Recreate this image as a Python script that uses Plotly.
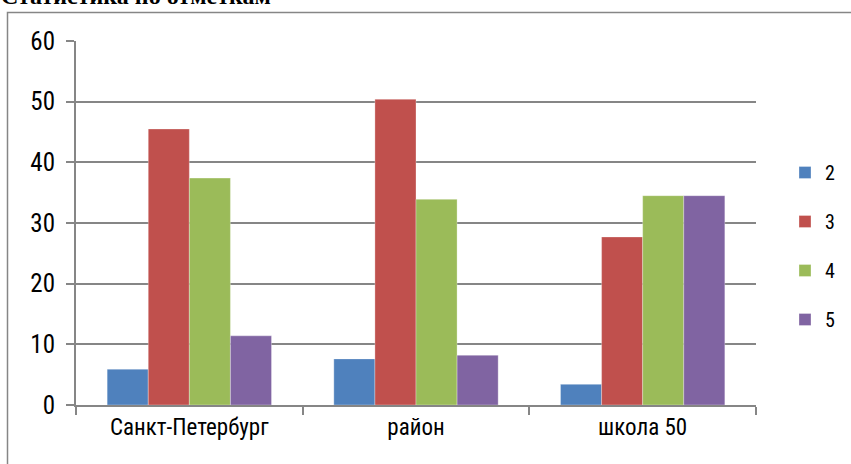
import plotly.graph_objects as go

categories = ["Санкт-Петербург", "район", "школа 50"]
series_names = ["2", "3", "4", "5"]
values_2 = [5.9, 7.6, 3.4]
values_3 = [45.5, 50.4, 27.7]
values_4 = [37.4, 33.9, 34.5]
values_5 = [11.4, 8.2, 34.5]
colors = ["#4F81BD", "#C0504D", "#9BBB59", "#8064A2"]
y_ticks = [0, 10, 20, 30, 40, 50, 60]

W, H = 851, 464
L, T = 76, 41
R = W - 756
B = H - 405
pw, ph = W - L - R, H - T - B

def px_x(x):  # window pixel -> paper x
    return (x - L) / pw

def px_y(y):  # window pixel -> paper y
    return (H - B - y) / ph

fig = go.Figure()
for name, vals, col in zip(series_names, [values_2, values_3, values_4, values_5], colors):
    fig.add_trace(go.Bar(
        x=categories, y=vals, name=name, legendgroup=name,
        marker=dict(color=col, line=dict(color="rgba(255,255,255,0.6)", width=0.5)),
    ))

font_main = "Liberation Sans Narrow, Arial Narrow, Roboto Condensed, Open Sans, sans-serif"

fig.update_layout(
    width=W, height=H,
    margin=dict(l=L, r=R, t=T, b=B, autoexpand=False),
    paper_bgcolor="white", plot_bgcolor="white",
    barmode="group", bargap=0.275, bargroupgap=0,
    font=dict(family=font_main, size=22, color="#000000"),
    showlegend=True,
    legend=dict(
        x=px_x(785), xanchor="left",
        y=px_y(153), yanchor="top",
        tracegroupgap=20,
        font=dict(family=font_main, size=20, color="#000000"),
        itemwidth=30,
        bgcolor="rgba(0,0,0,0)",
    ),
    xaxis=dict(
        showline=True, linecolor="#868686", linewidth=2,
        ticks="outside", tickson="boundaries", ticklen=8, tickwidth=2, tickcolor="#868686",
        tickfont=dict(family=font_main, size=23, color="#000000"),
        showgrid=False,
    ),
    yaxis=dict(
        range=[0, 60], tickvals=y_ticks,
        showline=True, linecolor="#868686", linewidth=2,
        ticks="outside", ticklen=8, tickwidth=2, tickcolor="#868686",
        showgrid=True, gridcolor="#868686", gridwidth=2,
        tickfont=dict(family=font_main, size=25, color="#000000"),
        ticklabelstandoff=6,
        zeroline=False,
    ),
    shapes=[dict(
        type="rect", xref="paper", yref="paper",
        x0=px_x(7.5), x1=px_x(870),
        y0=px_y(480), y1=px_y(12.5),
        line=dict(color="#868686", width=1.5), fillcolor="rgba(0,0,0,0)", layer="below",
    )],
    annotations=[dict(
        text="<b>Статистика по отметкам</b>", xref="paper", yref="paper",
        x=px_x(-1), xanchor="left",
        y=px_y(11), yanchor="bottom",
        showarrow=False,
        font=dict(family="Liberation Serif, Times New Roman, serif", size=24, color="#000000"),
    )],
)

fig.write_html("out.html", config={"displayModeBar": False},
               post_script="document.body.style.margin='0';")
